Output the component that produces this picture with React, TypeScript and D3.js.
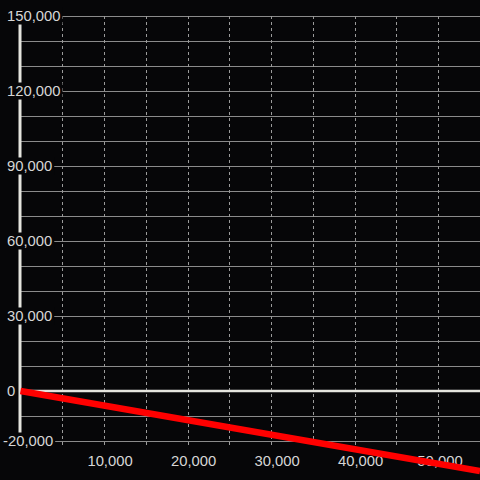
import React from "react";
import * as d3 from "d3";

const yGridValues = [-20000, -10000, 0, 10000, 20000, 30000, 40000, 50000, 60000, 70000, 80000, 90000, 100000, 110000, 120000, 130000, 140000, 150000];
const yLabelValues = [150000, 120000, 90000, 60000, 30000, 0, -20000];
const xGridValues = [5000, 10000, 15000, 20000, 25000, 30000, 35000, 40000, 45000, 50000];
const xLabelValues = [10000, 20000, 30000, 40000, 50000];
const lineX = [0, 55000];
const lineY = [0, -32000];

const W = 480;
const H = 480;
const FS = 14.8;
const fmt = d3.format(",");

function textWidth(s: string) {
  let w = 0;
  for (const c of s) {
    if (c === ",") w += 0.278;
    else if (c === "-") w += 0.333;
    else w += 0.556;
  }
  return w * FS;
}

export default function App() {
  const x = d3.scaleLinear().domain([0, 55000]).range([20.5, 480]);
  const y = d3.scaleLinear().domain([-20000, 150000]).range([441, 16]);
  const pts = lineX.map((v, i) => [v, lineY[i]] as [number, number]);
  const line = d3
    .line<[number, number]>()
    .x((d) => x(d[0]))
    .y((d) => y(d[1]));

  return (
    <svg
      width={W}
      height={H}
      style={{ position: "fixed", left: 0, top: 0, display: "block" }}
      fontFamily="'Liberation Sans', Arial, sans-serif"
    >
      <rect x={0} y={0} width={W} height={H} fill="#060608" />
      {yGridValues.map((v) => (
        <line key={"h" + v} x1={20} x2={W} y1={Math.round(y(v)) + 0.5} y2={Math.round(y(v)) + 0.5} stroke="#8a8a8a" strokeWidth={1} />
      ))}
      {xGridValues.map((v) => (
        <line
          key={"v" + v}
          x1={Math.round(x(v)) + 0.5}
          x2={Math.round(x(v)) + 0.5}
          y1={16}
          y2={447}
          stroke="#9a9a9a"
          strokeWidth={1}
          strokeDasharray="3,3"
        />
      ))}
      <line x1={20} x2={W} y1={y(0)} y2={y(0)} stroke="#e4e4de" strokeWidth={2.5} />
      <line x1={20} x2={20} y1={y(150000)} y2={y(-20000)} stroke="#e4e4de" strokeWidth={3} />
      {yLabelValues.map((v) => {
        const s = fmt(v).replace("−", "-");
        const tx = v < 0 ? 3 : 7;
        const w = textWidth(s);
        return (
          <g key={"yl" + v}>
            <rect x={tx - 2} y={y(v) - 8.5} width={w + 4} height={17} fill="#060608" />
            <text x={tx} y={y(v) + 5.4} fontSize={FS} fill="#d6d6d6">
              {s}
            </text>
          </g>
        );
      })}
      {xLabelValues.map((v) => {
        const s = fmt(v);
        const cx = Math.min(x(v) + 6, 440);
        return (
          <text key={"xl" + v} x={cx} y={466} fontSize={FS} fill="#d6d6d6" textAnchor="middle">
            {s}
          </text>
        );
      })}
      <path d={line(pts) || ""} fill="none" stroke="#ff0000" strokeWidth={6.6} strokeLinecap="butt" />
    </svg>
  );
}
